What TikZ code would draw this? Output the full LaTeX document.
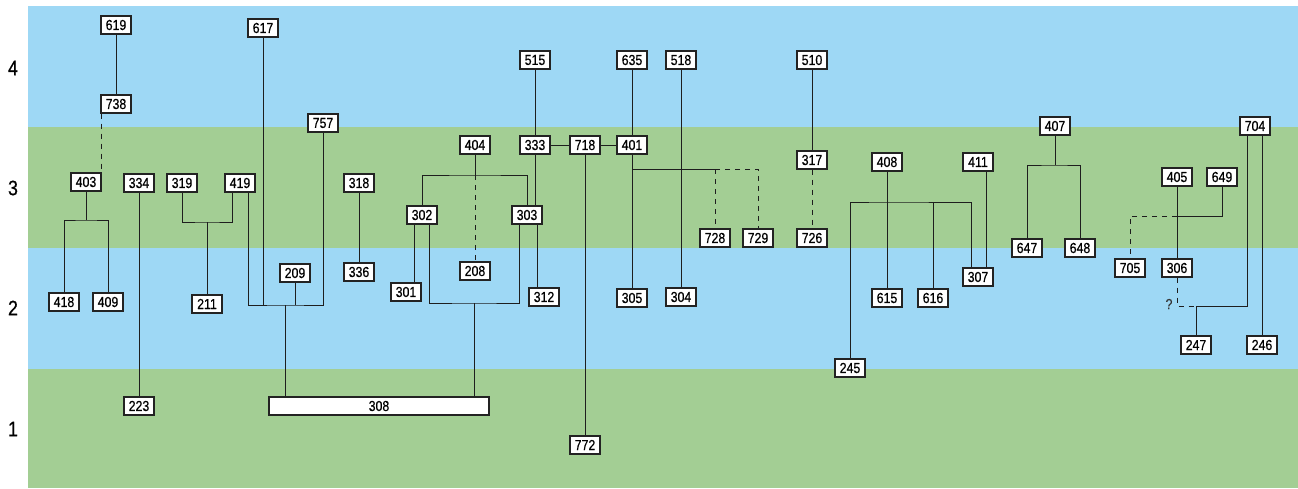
\documentclass[tikz,border=0pt]{standalone}
\usepackage{fontspec}
\setmainfont{Liberation Sans}[FakeStretch=0.85]
\newfontfamily\boxfont{Liberation Sans}[FakeStretch=0.85,FakeBold=0.5]
\definecolor{bandblue}{RGB}{158,216,245}
\definecolor{bandgreen}{RGB}{163,206,148}
\definecolor{boxline}{RGB}{35,35,35}
\definecolor{linecol}{RGB}{30,30,30}
\begin{document}
\begin{tikzpicture}[x=1pt,y=-1pt,
  box/.style={draw=boxline, fill=white, line width=1.4pt, minimum width=30pt, minimum height=18pt, inner sep=0pt, font=\boxfont\fontsize{14.5}{14.5}\selectfont},
  link/.style={draw=linecol, line width=0.95pt},
  dlink/.style={link, dash pattern=on 5pt off 5pt},
  level/.style={font=\boxfont\fontsize{21}{21}\selectfont, inner sep=0pt}]
\useasboundingbox (0,0) rectangle (1298,488);
\fill[white] (0,0) rectangle (1298,488);
\fill[bandblue] (28,6) rectangle (1298,127);
\fill[bandgreen] (28,127) rectangle (1298,248);
\fill[bandblue] (28,248) rectangle (1298,369);
\fill[bandgreen] (28,369) rectangle (1298,488);
% level labels
\node[level] (L4) at (13,68) {4};
\node[level] (L3) at (13,188) {3};
\node[level] (L2) at (13,308) {2};
\node[level] (L1) at (13,429) {1};
% boxes
\node[box] (n619) at (116,25) {619};
\node[box] (n617) at (263,28) {617};
\node[box] (n738) at (116,104) {738};
\node[box] (n757) at (323,123) {757};
\node[box] (n403) at (86,182) {403};
\node[box] (n334) at (139,183) {334};
\node[box] (n319) at (182,183) {319};
\node[box] (n419) at (240,183) {419};
\node[box] (n418) at (64,302) {418};
\node[box] (n409) at (108,302) {409};
\node[box] (n211) at (207,304) {211};
\node[box] (n223) at (139,406) {223};
\node[box] (n209) at (295,273) {209};
\node[box, minimum width=220pt] (n308) at (379,406) {308};
\node[box] (n515) at (535,60) {515};
\node[box] (n635) at (632,60) {635};
\node[box] (n518) at (681,60) {518};
\node[box] (n510) at (812,60) {510};
\node[box] (n333) at (535,145) {333};
\node[box] (n718) at (585,145) {718};
\node[box] (n401) at (632,145) {401};
\node[box] (n404) at (475,145) {404};
\node[box] (n318) at (359,183) {318};
\node[box] (n302) at (422,215) {302};
\node[box] (n303) at (527,215) {303};
\node[box] (n336) at (359,272) {336};
\node[box] (n301) at (406,292) {301};
\node[box] (n208) at (475,271) {208};
\node[box] (n312) at (544,297) {312};
\node[box] (n305) at (632,298) {305};
\node[box] (n772) at (585,445) {772};
\node[box] (n317) at (812,160) {317};
\node[box] (n408) at (887,162) {408};
\node[box] (n411) at (978,162) {411};
\node[box] (n728) at (715,238) {728};
\node[box] (n729) at (758,238) {729};
\node[box] (n726) at (812,238) {726};
\node[box] (n304) at (681,297) {304};
\node[box] (n615) at (887,298) {615};
\node[box] (n616) at (933,298) {616};
\node[box] (n307) at (978,277) {307};
\node[box] (n245) at (850,368) {245};
\node[box] (n407) at (1055,126) {407};
\node[box] (n704) at (1255,126) {704};
\node[box] (n405) at (1177,177) {405};
\node[box] (n649) at (1222,177) {649};
\node[box] (n647) at (1027,248) {647};
\node[box] (n648) at (1080,248) {648};
\node[box] (n705) at (1130,268) {705};
\node[box] (n306) at (1177,268) {306};
\node[box] (n247) at (1196,345) {247};
\node[box] (n246) at (1262,345) {246};
\node[font=\boxfont\fontsize{14.5}{14.5}\selectfont, inner sep=0pt, text=black!80] (q) at (1169,304) {?};
% junctions
\coordinate (j403) at (86,220);
\coordinate (j319) at (207,222);
\coordinate (j617) at (285,305);
\coordinate (j401) at (632,169);
\coordinate (j728) at (715,169);
\coordinate (j404) at (475,175);
\coordinate (j302) at (474,303);
\coordinate (j408) at (887,202);
\coordinate (j407) at (1055,165);
\coordinate (j649) at (1177,216);
\coordinate (j306) at (1177,306);
\coordinate (j247) at (1196,306);
% connectors
\draw[link] (n619) -- (n738);
\draw[dlink] ([xshift=-15pt]n738.south) -- ([xshift=15pt]n403.north);
\draw[link] (n403) -- (j403);
\draw[link] (n418) |- (j403) -| (n409);
\draw[link] (n334) -- (n223);
\draw[link] (n319) |- (j319) -| ([xshift=-8pt]n419.south);
\draw[link] (j319) -- (n211);
\draw[link] ([xshift=8pt]n419.south) |- (j617) -| (n757);
\draw[link] (n617) -- (n617 |- j617);
\draw[link] (n209) -- (n209 |- j617);
\draw[link] (j617) -- (j617 |- n308.north);
\draw[link] (n515) -- (n333);
\draw[link] (n333) -- (n718);
\draw[link] (n718) -- (n401);
\draw[link] (n635) -- (n401);
\draw[link] (n518) -- (n304);
\draw[link] (n718) -- (n772);
\draw[link] (n401) -- (n305);
\draw[link] (j401) -- (j728);
\draw[dlink] (j728) -| (n729);
\draw[dlink] (j728) -- (n728);
\draw[link] (n404) -- (j404);
\draw[link] (n302) |- (j404) -| (n303);
\draw[dlink] (j404) -- (n208);
\draw[link] ([xshift=8pt]n303.north) -- (n333);
\draw[link] ([xshift=-8pt]n302.south) -- ([xshift=8pt]n301.north);
\draw[link] ([xshift=7pt]n302.south) |- (j302) -| ([xshift=-8pt]n303.south);
\draw[link] (j302) -- (j302 |- n308.north);
\draw[link] ([xshift=10pt]n303.south) -- ([xshift=-7pt]n312.north);
\draw[link] (n318) -- (n336);
\draw[link] (n510) -- (n317);
\draw[dlink] (n317) -- (n726);
\draw[link] (n408) -- (n615);
\draw[link] (n245) |- (j408) -| ([xshift=-7pt]n307.north);
\draw[link] (n616) -- (n616 |- j408);
\draw[link] ([xshift=8pt]n411.south) -- ([xshift=8pt]n307.north);
\draw[link] (n407) -- (j407);
\draw[link] (n647) |- (j407) -| (n648);
\draw[link] (n649) |- (j649);
\draw[dlink] (j649) -| (n705);
\draw[link] (n405) -- (n306);
\draw[dlink] (n306) -- (j306) -- (j247);
\draw[link] (j247) -| ([xshift=-8pt]n704.south);
\draw[link] (j247) -- (n247);
\draw[link] ([xshift=7pt]n704.south) -- (n246);
\end{tikzpicture}
\end{document}
